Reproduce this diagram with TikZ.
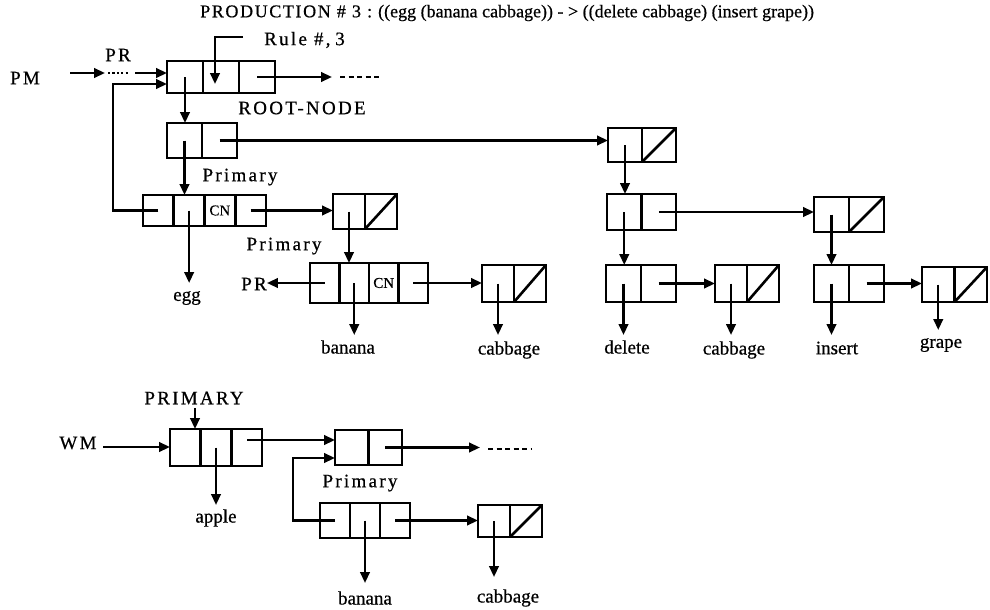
\documentclass[tikz,border=0pt]{standalone}
\usepackage{fontspec}
\setmainfont{Liberation Serif}[FakeBold=0.6]
\newfontfamily\capsfont[LetterSpace=12,FakeBold=0.6]{Liberation Serif}
\newfontfamily\titlecaps[LetterSpace=9,FakeBold=0.6]{Liberation Serif}
\usetikzlibrary{arrows.meta,calc,fit}
\tikzset{
  boxline/.style={line width=2.6pt},
  listbox/.style={draw, line width=2.6pt, inner sep=0pt, outer sep=0pt},
  ptr/.style={line width=2.4pt, -{Triangle[length=11pt,width=9.5pt]}},
  dots/.style={line width=2.6pt, dash pattern=on 2.2pt off 2.2pt},
  tail/.style={line width=2.6pt, dash pattern=on 5pt off 3.5pt},
  lbl/.style={font=\fontsize{19}{21}\selectfont, inner sep=0pt},
  caplbl/.style={font=\fontsize{19}{21}\selectfont\capsfont, inner sep=0pt},
  cn/.style={font=\fontsize{15}{16}\selectfont, inner sep=0pt},
}
\newcommand{\lnode}[6]{%
  \path (#2,#3) coordinate (#1 nw) (#4,#5) coordinate (#1 se);
  \node[listbox, fit=(#1 nw)(#1 se)] (#1) {};
  \foreach \k in {1,...,#6} {
    \coordinate (#1-\k) at ($(#1.west)!{(\k-0.5)/#6}!(#1.east)$);
  }
  \pgfmathtruncatemacro\nm{#6-1}
  \foreach \k in {1,...,\nm} {
    \draw[boxline] ($(#1.north west)!{\k/#6}!(#1.north east)$) -- ($(#1.south west)!{\k/#6}!(#1.south east)$);
  }
}
\newcommand{\nilslash}[1]{\draw[boxline] (#1.south) -- (#1.north east);}
\begin{document}
\begin{tikzpicture}[x=1pt,y=-1pt]
\useasboundingbox (0,0) rectangle (990,610);

% title
\node[anchor=west, inner sep=0pt, font=\fontsize{18}{20}\selectfont] (title) at (200,13) {{\titlecaps PRODUCTION \# 3 :} ((egg (banana cabbage)) - > ((delete cabbage) (insert grape))};

% production memory nodes
\lnode{root}{167}{61}{275}{93}{3}
\lnode{pa}{167}{123}{237}{158}{2}
\lnode{egg}{143}{195}{266}{226}{4}
\lnode{pb}{333}{194}{397}{229}{2} \nilslash{pb}
\lnode{ban}{310}{263}{428}{303}{4}
\lnode{cab}{482}{265}{546}{302}{2} \nilslash{cab}
\lnode{qa}{608}{128}{676}{162}{2} \nilslash{qa}
\lnode{qb}{607}{194}{676}{230}{2}
\lnode{qc}{814}{197}{884}{232}{2} \nilslash{qc}
\lnode{del}{606}{265}{676}{302}{2}
\lnode{cabb}{715}{265}{779}{302}{2} \nilslash{cabb}
\lnode{ins}{814}{265}{884}{302}{2}
\lnode{gra}{922}{267}{987}{302}{2} \nilslash{gra}

% labels
\node[caplbl] (pm) at (25,78) {PM};
\node[caplbl] (prtop) at (118,55) {PR};
\node[lbl, anchor=west] (rule) at (264,40) {{\capsfont Rule \#,} 3};
\node[caplbl] (rootlbl) at (302,108) {ROOT-NODE};
\node[caplbl] (prim1) at (240,177) {Primary};
\node[caplbl] (prim2) at (284,246) {Primary};
\node[cn] (cn1) at (egg-3) {CN};
\node[cn] (cn2) at (ban-3) {CN};
\node[caplbl] (prleft) at (254,284) {PR};
\node[lbl] (legg) at (187,298) {egg};
\node[lbl] (lban) at (348,347) {banana};
\node[lbl] (lcab) at (509,350) {cabbage};
\node[lbl] (ldel) at (627,347) {delete};
\node[lbl] (lcabb) at (734,350) {cabbage};
\node[lbl] (lins) at (837,348) {insert};
\node[lbl] (lgra) at (941,345) {grape};

% PM entry
\coordinate (a1) at (70,73);
\coordinate (a2) at (105,73);
\coordinate (a3) at (108,73);
\coordinate (a4) at (129,73);
\coordinate (a5) at (135,73);
\draw[ptr] (a1) -- (a2);
\draw[dots] (a3) -- (a4);
\draw[ptr] (a5) -- (a5 -| root.west);

% rule pointer
\coordinate (r1) at (243,37);
\coordinate (r2) at (215,37);
\coordinate (r3) at (215,84);
\draw[ptr] (r1) -- (r2) -- (r3);

% root next
\coordinate (t1) at (332,77);
\coordinate (t2) at (340,77);
\coordinate (t3) at (382,77);
\draw[ptr] (root-3) -- (t1);
\draw[tail] (t2) -- (t3);

% loop back
\coordinate (lp) at (113,84);
\draw[ptr] (egg-1) -| (lp) -- (lp -| root.west);

\draw[ptr] (root-1) -- (root-1 |- pa.north);
\draw[ptr] (pa-1) -- (pa-1 |- egg.north);
\draw[ptr] (pa-2) -- (pa-2 -| qa.west);
\draw[ptr] (egg-2) -- (egg-2 |- 0,283);
\draw[ptr] (egg-4) -- (egg-4 -| pb.west);
\draw[ptr] (pb-1) -- (pb-1 |- ban.north);
\draw[ptr] (ban-1) -- (ban-1 -| prleft.east);
\draw[ptr] (ban-2) -- (ban-2 |- 0,335);
\draw[ptr] (ban-4) -- (ban-4 -| cab.west);
\draw[ptr] (cab-1) -- (cab-1 |- 0,335);
\draw[ptr] (qa-1) -- (qa-1 |- qb.north);
\draw[ptr] (qb-2) -- (qb-2 -| qc.west);
\draw[ptr] (qb-1) -- (qb-1 |- del.north);
\draw[ptr] (qc-1) -- (qc-1 |- ins.north);
\draw[ptr] (del-1) -- (del-1 |- 0,335);
\draw[ptr] (del-2) -- (del-2 -| cabb.west);
\draw[ptr] (cabb-1) -- (cabb-1 |- 0,335);
\draw[ptr] (ins-1) -- (ins-1 |- 0,335);
\draw[ptr] (ins-2) -- (ins-2 -| gra.west);
\draw[ptr] (gra-1) -- (gra-1 |- 0,330);

% working memory
\lnode{app}{170}{429}{262}{466}{3}
\lnode{wp}{335}{430}{402}{465}{2}
\lnode{wb}{320}{503}{410}{538}{3}
\lnode{wc}{478}{505}{542}{537}{2} \nilslash{wc}

\node[caplbl] (primcap) at (194,398) {PRIMARY};
\node[caplbl] (wm) at (78,443) {WM};
\node[caplbl] (prim3) at (360,483) {Primary};
\node[lbl] (lapp) at (216,518) {apple};
\node[lbl] (lwb) at (365,598) {banana};
\node[lbl] (lwc) at (508,598) {cabbage};

\coordinate (w1) at (103,447);
\draw[ptr] (w1) -- (w1 -| app.west);
\coordinate (p1) at (195,408);
\draw[ptr] (p1) -- (p1 |- app.north);
\draw[ptr] (app-2) -- (app-2 |- 0,505);
\coordinate (w2) at (247,440);
\draw[ptr] (w2) -- (w2 -| wp.west);
\coordinate (w3) at (480,449);
\coordinate (w4) at (488,449);
\coordinate (w5) at (532,449);
\draw[ptr] (wp-2) -- (wp-2 -| w3);
\draw[tail] (w4) -- (w5);
\coordinate (wl) at (293,458);
\draw[ptr] (wb-1) -| (wl) -- (wl -| wp.west);
\draw[ptr] (wb-2) -- (wb-2 |- 0,583);
\draw[ptr] (wb-3) -- (wb-3 -| wc.west);
\draw[ptr] (wc-1) -- (wc-1 |- 0,577);
\end{tikzpicture}
\end{document}
